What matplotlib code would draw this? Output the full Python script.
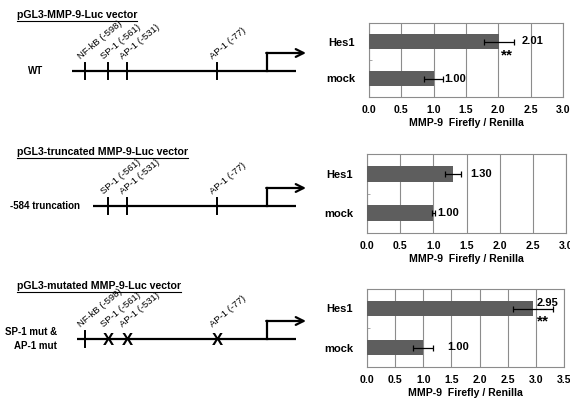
import matplotlib
matplotlib.use("Agg")
import matplotlib.pyplot as plt
import numpy as np

plt.rcParams['font.family'] = ['Liberation Sans', 'DejaVu Sans']
plt.rcParams['font.weight'] = 'bold'

# bar chart data (one entry per construct, top to bottom)
categories = ['mock', 'Hes1']
values = [[1.00, 2.01], [1.00, 1.30], [1.00, 2.95]]
errors = [[0.15, 0.23], [0.02, 0.12], [0.18, 0.36]]
value_labels = [['1.00', '2.01'], ['1.00', '1.30'], ['1.00', '2.95']]
signif = ['**', '', '**']
xmax = [3.0, 3.0, 3.5]

# promoter diagrams
titles = ['pGL3-MMP-9-Luc vector', 'pGL3-truncated MMP-9-Luc vector',
          'pGL3-mutated MMP-9-Luc vector']
row_names = ['WT', '-584 truncation', 'SP-1 mut &\nAP-1 mut']
site_names = ['NF-kB (-598)', 'SP-1 (-561)', 'AP-1 (-531)', 'AP-1 (-77)']
site_x = [85, 108, 127, 217]          # schematic positions in px
site_shown = [[1, 1, 1, 1], [0, 1, 1, 1], [1, 1, 1, 1]]
site_mutated = [[0, 0, 0, 0], [0, 0, 0, 0], [0, 1, 1, 1]]

W, H = 570, 401
fig = plt.figure(figsize=(W / 100, H / 100), dpi=100)

# overlay axes in pixel units for the schematics
ov = fig.add_axes([0, 0, 1, 1])
ov.set_xlim(0, W)
ov.set_ylim(H, 0)
ov.axis('off')

line_y = [71, 206, 339]
title_y = [15, 152, 286]
line_start = [72, 93, 77]
name_x = [36, 45, 57]
tss_x = 267

title_texts = []
for i in range(3):
    y = line_y[i]
    title_texts.append(ov.text(17, title_y[i], titles[i], fontsize=7.6,
                               fontweight='bold', va='center', ha='left'))
    ov.plot([line_start[i], 296], [y, y], color='black', lw=1.6,
            solid_capstyle='butt')
    # transcription start arrow
    ov.plot([tss_x, tss_x], [y, y - 18], color='black', lw=1.6)
    ov.annotate('', xy=(306, y - 18), xytext=(tss_x - 0.8, y - 18),
                arrowprops=dict(arrowstyle='->', lw=1.6, color='black',
                                mutation_scale=14, shrinkA=0, shrinkB=0))
    ha = 'right' if i == 2 else 'center'
    ov.text(name_x[i], y, row_names[i], fontsize=7,
            fontweight='bold', ha=ha, va='center', linespacing=1.5)
    for k in range(4):
        if not site_shown[i][k]:
            continue
        sx = site_x[k]
        if site_mutated[i][k]:
            ov.text(sx, y + 1.5, 'X', fontsize=12, fontweight='bold',
                    ha='center', va='center')
        else:
            ov.plot([sx, sx], [y - 8, y + 8], color='black', lw=1.4)
        ov.text(sx - 3, y - 10, site_names[k], fontsize=6.8, fontweight='normal',
                rotation=40, rotation_mode='anchor', ha='left', va='bottom')

# underline the titles using their rendered width
fig.canvas.draw()
inv = ov.transData.inverted()
for t in title_texts:
    bb = t.get_window_extent()
    (x0, y0), (x1, y1) = inv.transform([[bb.x0, bb.y0], [bb.x1, bb.y1]])
    ov.plot([x0, x1], [y0 + 0.5, y0 + 0.5], color='black', lw=0.8)

# bar charts
boxes = [[369, 23, 194, 74], [367, 154, 199, 79], [367, 289, 197, 78]]
label_off = [[0.01, 0.12], [0.04, 0.14], [0.24, -0.29]]
label_dy = [[0, 0], [0, 0], [0, 0.14]]
star_pos = [(2.13, 0.62), None, (3.13, 0.66)]

for i in range(3):
    l, t, w, h = boxes[i]
    ax = fig.add_axes([l / W, 1 - (t + h) / H, w / W, h / H])
    ypos = np.arange(len(categories))
    ax.barh(ypos, values[i], height=0.4, color='#5e5e5e', zorder=3)
    ax.errorbar(values[i], ypos, xerr=errors[i], fmt='none', ecolor='black',
                elinewidth=0.9, capsize=2, capthick=0.9, zorder=4)
    for j in range(2):
        ax.text(values[i][j] + errors[i][j] + label_off[i][j], ypos[j] + label_dy[i][j],
                value_labels[i][j], fontsize=8, fontweight='bold',
                ha='left', va='center', zorder=5)
    if signif[i]:
        sx, sy = star_pos[i]
        ax.text(sx, sy, signif[i], fontsize=11, fontweight='bold',
                ha='center', va='center', zorder=5)
    ax.set_xlim(0, xmax[i])
    ax.set_ylim(-0.5, 1.5)
    ticks = np.arange(0, xmax[i] + 0.01, 0.5)
    ax.set_xticks(ticks)
    ax.set_xticklabels(['%.1f' % v for v in ticks], fontsize=7.6, fontweight='bold')
    ax.set_yticks(ypos)
    ax.set_yticklabels(categories, fontsize=8, fontweight='bold')
    ax.set_yticks([0.5], minor=True)
    ax.tick_params(axis='y', which='major', length=0, pad=10)
    ax.tick_params(axis='y', which='minor', length=2, direction='in', color='#999999')
    ax.tick_params(axis='x', length=0, pad=6)
    ax.grid(axis='x', color='#8c8c8c', lw=0.8, zorder=0)
    for s in ax.spines.values():
        s.set_color('#8c8c8c')
        s.set_linewidth(0.8)
    ax.set_xlabel('MMP-9  Firefly / Renilla', fontsize=7.6, fontweight='bold',
                  labelpad=2)

fig.savefig('out.png', dpi=100)
